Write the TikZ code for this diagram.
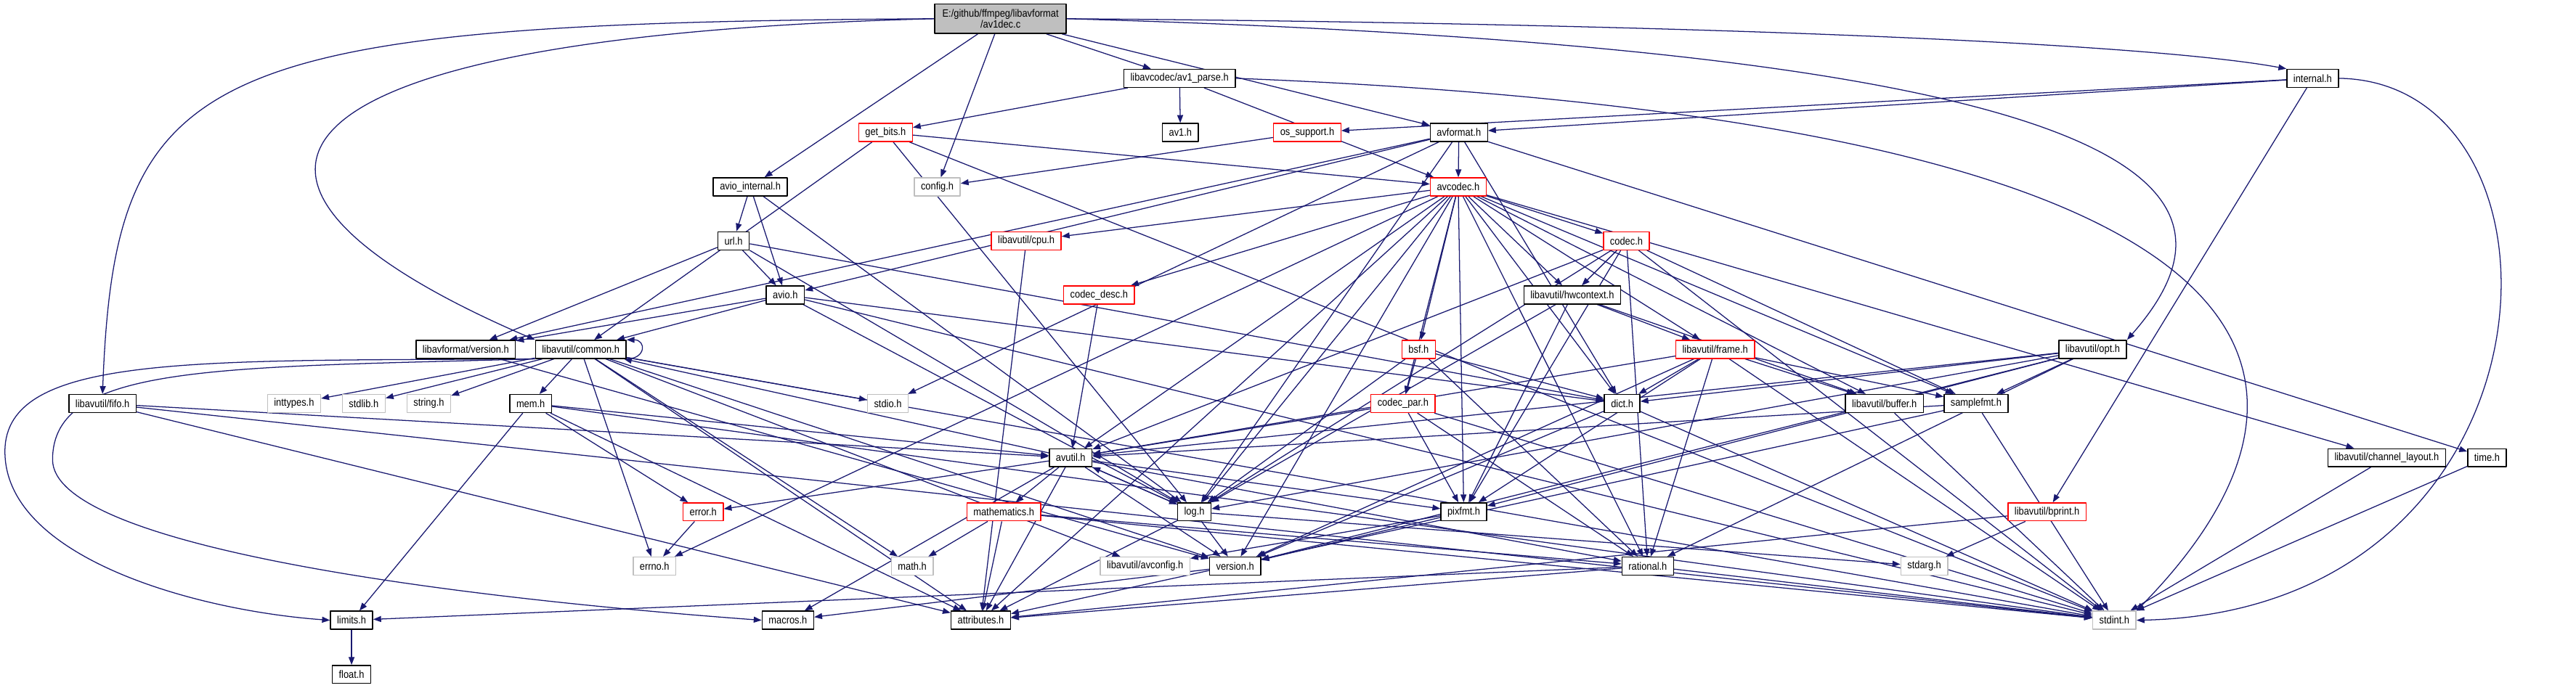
\documentclass[tikz,border=0pt]{standalone}
\usepackage{fontspec}
\setmainfont[FakeStretch=0.88]{Liberation Sans}
\usetikzlibrary{arrows.meta}
\definecolor{depblue}{HTML}{191970}
\definecolor{sysgray}{HTML}{BFBFBF}
\pgfdeclarelayer{bg}
\pgfsetlayers{bg,main}
\tikzset{hdr/.style={draw=black,line width=0.9pt,fill=white,minimum height=0.55cm,inner xsep=0.2cm,inner ysep=0pt},
  hdrred/.style={hdr,draw=red},
  hdrsys/.style={hdr,draw=sysgray},
  dep/.style={depblue,line width=0.8pt,-{Triangle[length=0.24cm,width=0.18cm]}}}

\begin{document}
\begin{tikzpicture}[x=0.05cm,y=-0.05cm,line join=round,font=\fontsize{9.2}{9}\selectfont]
\useasboundingbox (0,0) rectangle (1568,419);
% --- rows of headers, top to bottom
\node[hdr,fill=sysgray,minimum width=4cm,minimum height=0.9cm,align=center] (root) at (609,11.4) {E:/github/ffmpeg/libavformat\\/av1dec.c};
\node[hdr] (av1parse) at (718,47.7) {libavcodec/av1\_parse.h};
\node[hdr] (internal) at (1407.7,47.7) {internal.h};
\node[hdrred] (getbits) at (539,80.7) {get\_bits.h};
\node[hdr] (avone) at (718.5,80.7) {av1.h};
\node[hdrred] (ossupport) at (795.7,80.7) {os\_support.h};
\node[hdr] (avformat) at (888,80.7) {avformat.h};
\node[hdr] (avioint) at (456.7,113.8) {avio\_internal.h};
\node[hdrsys] (config) at (570.5,113.8) {config.h};
\node[hdrred] (avcodec) at (887.6,113.8) {avcodec.h};
\node[hdr] (url) at (446.5,146.7) {url.h};
\node[hdrred] (cpu) at (624.7,146.7) {libavutil/cpu.h};
\node[hdrred] (codec) at (990,146.7) {codec.h};
\node[hdr] (avio) at (478,179.7) {avio.h};
\node[hdrred] (codecdesc) at (669,179.7) {codec\_desc.h};
\node[hdr] (hwcontext) at (957,179.7) {libavutil/hwcontext.h};
\node[hdr] (lavfversion) at (283.5,212.8) {libavformat/version.h};
\node[hdr] (common) at (353.5,212.8) {libavutil/common.h};
\node[hdrred] (bsf) at (863.5,212.8) {bsf.h};
\node[hdrred] (frame) at (1044,212.8) {libavutil/frame.h};
\node[hdr] (opt) at (1273.8,212.8) {libavutil/opt.h};
\node[hdr] (fifo) at (62.4,245.8) {libavutil/fifo.h};
\node[hdrsys] (inttypes) at (179,245.8) {inttypes.h};
\node[hdrsys] (stdlib) at (221.4,245.8) {stdlib.h};
\node[hdrsys] (string) at (261,245.8) {string.h};
\node[hdr] (mem) at (323,245.8) {mem.h};
\node[hdrsys] (stdio) at (540.4,245.8) {stdio.h};
\node[hdrred] (codecpar) at (854,245.8) {codec\_par.h};
\node[hdr] (dict) at (987.4,245.8) {dict.h};
\node[hdr] (buffer) at (1147,245.8) {libavutil/buffer.h};
\node[hdr] (samplefmt) at (1202.8,245.8) {samplefmt.h};
\node[hdr] (avutil) at (651.7,278.8) {avutil.h};
\node[hdr] (chlayout) at (1452.8,278.8) {libavutil/channel\_layout.h};
\node[hdr] (time) at (1513.8,278.8) {time.h};
\node[hdrred] (error) at (428,311.8) {error.h};
\node[hdrred] (mathematics) at (611,311.8) {mathematics.h};
\node[hdr] (log) at (727,311.8) {log.h};
\node[hdr] (pixfmt) at (891,311.8) {pixfmt.h};
\node[hdrred] (bprint) at (1246,311.8) {libavutil/bprint.h};
\node[hdrsys] (errno) at (398.4,344.8) {errno.h};
\node[hdrsys] (math) at (555.3,344.8) {math.h};
\node[hdrsys] (avconfig) at (697,344.8) {libavutil/avconfig.h};
\node[hdr] (version) at (751.8,344.8) {version.h};
\node[hdr] (rational) at (1003,344.8) {rational.h};
\node[hdrsys] (stdarg) at (1171.3,344.8) {stdarg.h};
\node[hdr] (limits) at (214,377.8) {limits.h};
\node[hdr] (macros) at (479.6,377.8) {macros.h};
\node[hdr] (attributes) at (597,377.8) {attributes.h};
\node[hdrsys] (stdint) at (1287,377.8) {stdint.h};
\node[hdr] (float) at (214,410.8) {float.h};
% --- include arrows, under the boxes
\begin{pgfonlayer}{bg}
\draw[dep] (root.west) .. controls (120,14) and (70,40) .. (fifo.north);
\draw[dep] (root.west) .. controls (150,22) and (100,110) .. (common.north west);
\draw[dep] (root.east) .. controls (1000,14) and (1300,25) .. (internal.north west);
\draw[dep] (root.east) .. controls (1300,30) and (1380,110) .. (opt.north east);
\draw[dep] (av1parse.east) .. controls (1450,75) and (1420,250) .. (stdint.north east);
\draw[dep] (internal.east) .. controls (1575,50) and (1565,372) .. (stdint.east);
\draw[dep] (common.south east) .. controls +(12,0) and +(12,0) .. (common.north east);
\draw[dep] (common.south west) .. controls (120,220) and (3,215) .. (3,275) .. controls (3,340) and (120,372) .. (limits.west);
\draw[dep] (common.south west) .. controls (130,224) and (32,222) .. (32,280) .. controls (32,330) and (250,362) .. (macros.west);
\foreach \s/\t in {root/av1parse,root/avformat,root/avioint,root/config,
  av1parse/getbits,av1parse/avone,av1parse/avcodec,
  internal/avformat,internal/ossupport,internal/bprint,
  getbits/avcodec,getbits/common,getbits/log,getbits/stdint,
  ossupport/config,
  avformat/avcodec,avformat/avio,avformat/lavfversion,avformat/stdio,avformat/dict,avformat/log,avformat/time,
  avioint/url,avioint/avio,avioint/log,
  url/avio,url/lavfversion,url/dict,url/log,
  avio/lavfversion,avio/common,avio/dict,avio/log,avio/stdint,
  lavfversion/version}
  \draw[dep] (\s) -- (\t);
\foreach \t in {cpu,codecdesc,codec,hwcontext,bsf,codecpar,frame,dict,buffer,samplefmt,avutil,log,pixfmt,rational,attributes,errno,chlayout,version}
  \draw[dep] (avcodec) -- (\t);
\foreach \s/\t in {codec/hwcontext,codec/avutil,codec/log,codec/pixfmt,codec/rational,codec/samplefmt,codec/stdint,
  cpu/attributes,codecdesc/avutil,
  hwcontext/buffer,hwcontext/frame,hwcontext/log,hwcontext/pixfmt,
  bsf/dict,bsf/log,bsf/rational,bsf/codecpar,
  frame/avutil,frame/buffer,frame/dict,frame/rational,frame/samplefmt,frame/pixfmt,frame/version,frame/stdint,
  opt/rational,opt/avutil,opt/dict,opt/log,opt/pixfmt,opt/samplefmt,opt/version}
  \draw[dep] (\s) -- (\t);
\foreach \t in {inttypes,stdlib,string,mem,stdio,errno,math,attributes,stdint,avconfig,version}
  \draw[dep] (common) -- (\t);
\foreach \s/\t in {fifo/avutil,fifo/attributes,fifo/stdint,
  mem/avutil,mem/error,mem/limits,mem/attributes,mem/stdint,
  codecpar/avutil,codecpar/rational,codecpar/pixfmt,codecpar/stdint,
  dict/version,dict/stdint,buffer/stdint,
  samplefmt/avutil,samplefmt/attributes,samplefmt/stdint,
  avutil/common,avutil/error,avutil/rational,avutil/version,avutil/macros,avutil/mathematics,avutil/log,avutil/pixfmt,avutil/attributes,
  chlayout/stdint,time/stdint,error/errno,
  mathematics/math,mathematics/attributes,mathematics/rational,mathematics/stdint,
  log/avutil,log/attributes,log/version,log/stdarg,
  pixfmt/avconfig,pixfmt/version,
  bprint/stdarg,bprint/attributes,version/macros,
  rational/limits,rational/attributes,rational/stdint,limits/float}
  \draw[dep] (\s) -- (\t);
\end{pgfonlayer}
\end{tikzpicture}
\end{document}
